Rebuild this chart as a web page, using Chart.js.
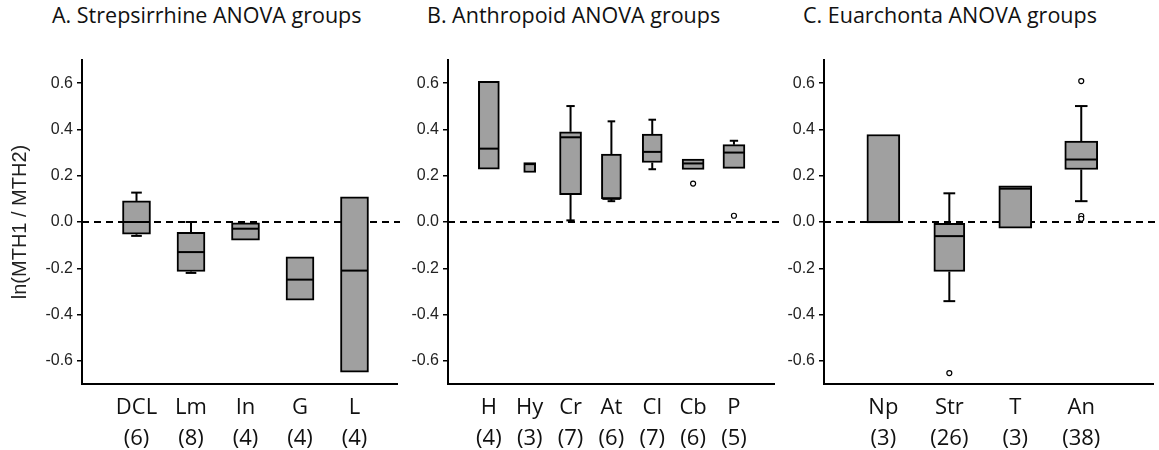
<!DOCTYPE html>
<html>
<head>
<meta charset="utf-8">
<script src="https://cdn.jsdelivr.net/npm/chart.js@4.4.1/dist/chart.umd.min.js"></script>
<style>
  body { margin: 0; background: #fff; }
  #wrap { position: relative; width: 1159px; height: 450px; overflow: hidden; }
  canvas { position: absolute; top: 0; }
  .title { position: absolute; top: 0px; font-family: "Open Sans", sans-serif; font-size: 21.5px; color: #111; white-space: nowrap; }
</style>
</head>
<body>
<div id="wrap">
  <div class="title" style="left:52px">A. Strepsirrhine ANOVA groups</div>
  <div class="title" style="left:427px">B. Anthropoid ANOVA groups</div>
  <div class="title" style="left:803px">C. Euarchonta ANOVA groups</div>
  <canvas id="chartA" width="400" height="450" style="left:0px"></canvas>
  <canvas id="chartB" width="380" height="450" style="left:400px"></canvas>
  <canvas id="chartC" width="379" height="450" style="left:780px"></canvas>
</div>
<script>
// tick values shared by the three panels
const yTicks = [-0.6, -0.4, -0.2, 0, 0.2, 0.4, 0.6];

// A. Strepsirrhine
const groupsA = ['DCL', 'Lm', 'In', 'G', 'L'];
const countsA = [6, 8, 4, 4, 4];
const minA = [-0.06, -0.22, -0.078, -0.338, -0.649];
const q1A  = [-0.053, -0.214, -0.078, -0.338, -0.649];
const medA = [0, -0.13, -0.029, -0.249, -0.21];
const q3A  = [0.091, -0.045, 0, -0.15, 0.109];
const maxA = [0.127, 0, 0, -0.15, 0.109];
const outA = [];

// B. Anthropoid
const groupsB = ['H', 'Hy', 'Cr', 'At', 'Cl', 'Cb', 'P'];
const countsB = [4, 3, 7, 6, 7, 6, 5];
const minB = [0.228, 0.214, 0.007, 0.09, 0.228, 0.227, 0.232];
const q1B  = [0.228, 0.214, 0.118, 0.1, 0.257, 0.227, 0.232];
const medB = [0.317, 0.25, 0.366, 0.1, 0.303, 0.253, 0.3];
const q3B  = [0.608, 0.257, 0.39, 0.293, 0.38, 0.272, 0.334];
const maxB = [0.608, 0.257, 0.501, 0.435, 0.442, 0.272, 0.351];
const outB = [[6, 0.166], [7, 0.027]];

// C. Euarchonta
const groupsC = ['Np', 'Str', 'T', 'An'];
const countsC = [3, 26, 3, 38];
const minC = [-0.004, -0.342, -0.027, 0.09];
const q1C  = [-0.004, -0.214, -0.027, 0.227];
const medC = [0, -0.061, 0.144, 0.27];
const q3C  = [0.378, -0.006, 0.156, 0.35];
const maxC = [0.378, 0.124, 0.156, 0.501];
const outC = [[2, -0.653], [4, 0.609], [4, 0.026], [4, 0.014]];

const BOX_FILL = '#a0a0a0';

function makeChart(id, p) {
  const n = p.groups.length;

  // one floating bar per group = the box (q1..q3)
  const datasets = p.groups.map((g, i) => ({
    type: 'bar',
    label: g,
    data: [{ x: i + 1, y: [p.q1[i], p.q3[i]] }],
    backgroundColor: BOX_FILL,
    borderColor: '#000',
    borderWidth: 2,
    borderSkipped: false,
    grouped: false,
    barThickness: (p.widths && p.widths[i]) || p.boxW
  }));

  datasets.push({
    type: 'scatter',
    label: 'outliers',
    data: p.out.map(o => ({ x: o[0], y: o[1] })),
    pointStyle: 'circle',
    pointRadius: 2.5,
    backgroundColor: '#fff',
    borderColor: '#000',
    borderWidth: 1.2
  });

  const boxPlugin = {
    id: 'boxbits',
    beforeDatasetsDraw(chart) {
      const { ctx, chartArea, scales } = chart;
      const y0 = scales.y.getPixelForValue(0);
      ctx.save();
      ctx.strokeStyle = '#000';
      ctx.lineWidth = 2;
      ctx.setLineDash([7, 5]);
      ctx.beginPath();
      ctx.moveTo(chartArea.left, y0);
      ctx.lineTo(chart.width, y0);
      ctx.stroke();
      ctx.restore();
    },
    afterDatasetsDraw(chart) {
      const { ctx, scales } = chart;
      const ys = scales.y;
      ctx.save();
      ctx.strokeStyle = '#000';
      ctx.lineWidth = 2;
      ctx.lineCap = 'butt';
      for (let i = 0; i < n; i++) {
        const bar = chart.getDatasetMeta(i).data[0];
        const cx = bar.x;
        const hw = bar.width / 2;
        const cap = bar.width * 0.19;
        const line = (x1, y1, x2, y2) => {
          ctx.beginPath(); ctx.moveTo(x1, y1); ctx.lineTo(x2, y2); ctx.stroke();
        };
        // median
        const ym = ys.getPixelForValue(p.med[i]);
        line(cx - hw + 1, ym, cx + hw - 1, ym);
        // upper whisker
        if (p.max[i] > p.q3[i]) {
          const yt = ys.getPixelForValue(p.max[i]);
          line(cx, ys.getPixelForValue(p.q3[i]), cx, yt);
          line(cx - cap, yt, cx + cap, yt);
        }
        // lower whisker
        if (p.min[i] < p.q1[i]) {
          const yb = ys.getPixelForValue(p.min[i]);
          line(cx, ys.getPixelForValue(p.q1[i]), cx, yb);
          line(cx - cap, yb, cx + cap, yb);
        }
      }
      ctx.restore();
    }
  };

  return new Chart(document.getElementById(id), {
    type: 'bar',
    data: { datasets },
    plugins: [boxPlugin],
    options: {
      responsive: false,
      animation: false,
      layout: { padding: { top: 60, right: p.padR, left: 0, bottom: 0 } },
      plugins: { legend: { display: false }, tooltip: { enabled: false } },
      scales: {
        x: {
          type: 'linear',
          min: p.xMin,
          max: p.xMax,
          offset: false,
          afterBuildTicks: s => { s.ticks = p.groups.map((g, i) => ({ value: i + 1 })); },
          afterFit: s => { s.height = 66; },
          grid: { display: false },
          border: { display: true, color: '#000', width: 2 },
          ticks: {
            autoSkip: false,
            maxRotation: 0,
            padding: 0,
            color: '#111',
            font: { family: 'Open Sans', size: 22, lineHeight: 1.41 },
            callback: (v, i) => [p.groups[i], '(' + p.counts[i] + ')']
          }
        },
        y: {
          min: -0.7,
          max: 0.7,
          afterBuildTicks: s => { s.ticks = yTicks.map(v => ({ value: v })); },
          afterFit: s => { s.width = p.axisW; },
          grid: { display: true, drawOnChartArea: false, drawTicks: true, tickLength: 5, color: '#000', lineWidth: 1.5 },
          border: { display: true, color: '#000', width: 2 },
          ticks: {
            padding: 4,
            color: '#222',
            font: { family: "'Liberation Sans', Arial, sans-serif", size: 16 },
            callback: v => v.toFixed(1)
          },
          title: {
            display: !!p.yTitle,
            text: p.yTitle || '',
            color: '#222',
            font: { family: "'Liberation Sans', Arial, sans-serif", size: 20 },
            padding: { top: 8, bottom: 0 }
          }
        }
      }
    }
  });
}

makeChart('chartA', {
  groups: groupsA, counts: countsA, min: minA, q1: q1A, med: medA, q3: q3A, max: maxA, out: outA,
  xMin: 0, xMax: 5.78, axisW: 82, padR: 3, boxW: 28, yTitle: 'ln(MTH1 / MTH2)'
});
makeChart('chartB', {
  groups: groupsB, counts: countsB, min: minB, q1: q1B, med: medB, q3: q3B, max: maxB, out: outB,
  xMin: 0, xMax: 8, axisW: 48, padR: 2, boxW: 21, widths: [21, 12, 22, 20, 20, 22, 22]
});
makeChart('chartC', {
  groups: groupsC, counts: countsC, min: minC, q1: q1C, med: medC, q3: q3C, max: maxC, out: outC,
  xMin: 0.1, xMax: 5.1, axisW: 44, padR: 4, boxW: 33, widths: [33, 31, 33, 33]
});
</script>
</body>
</html>
